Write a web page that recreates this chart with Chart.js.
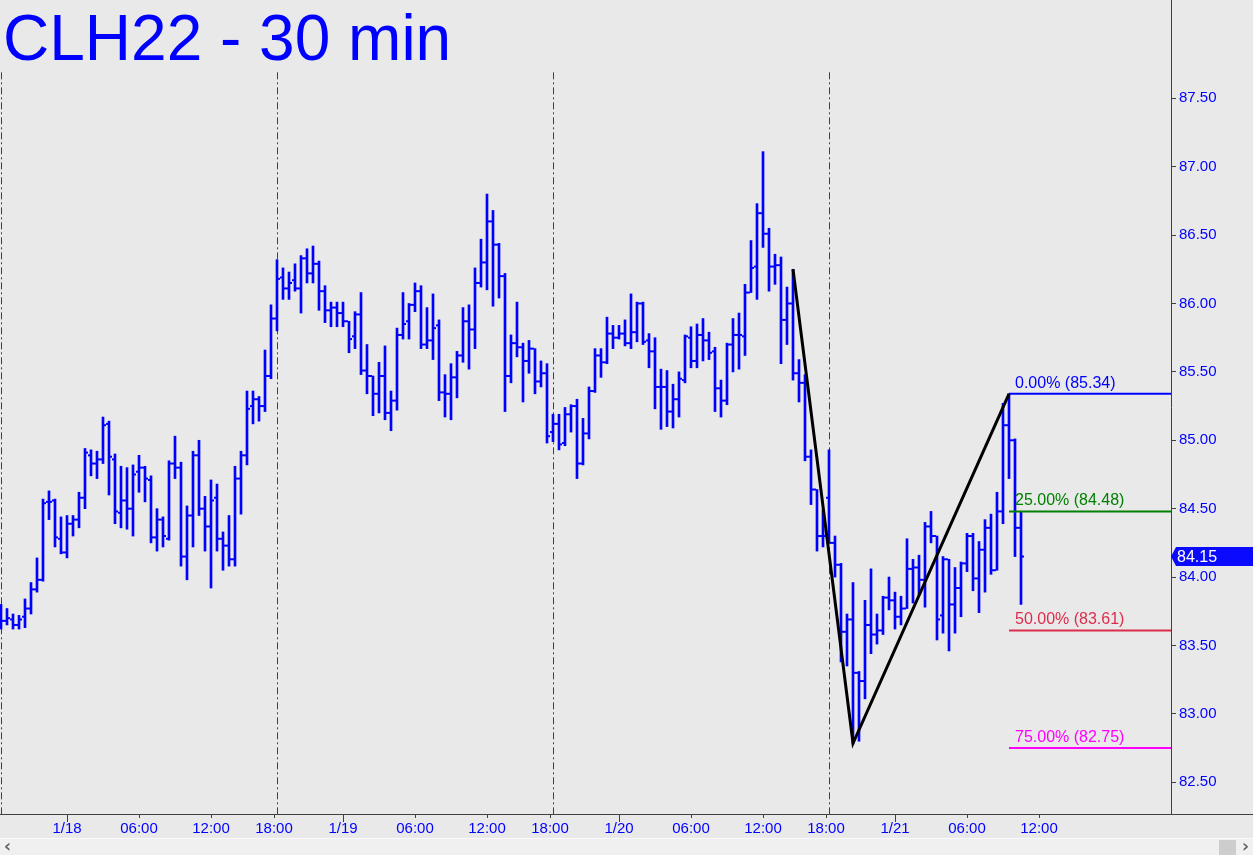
<!DOCTYPE html>
<html>
<head>
<meta charset="utf-8">
<script src="https://cdn.jsdelivr.net/npm/chart.js@4.4.1/dist/chart.umd.min.js"></script>
<style>
  html, body { margin: 0; padding: 0; background: #e9e9e9; overflow: hidden; }
  #wrap { position: relative; width: 1253px; height: 838px; }
  #scroll { position: relative; width: 1253px; height: 17px; background: #f0f0f0; border-top: 1px solid #fbfbfb; box-sizing: border-box; }
  #scroll .arr { position: absolute; top: -3px; font: bold 17px "DejaVu Sans", sans-serif; color: #606060; }
  #scroll .l { left: 4px; }
  #scroll .r { right: 4px; }
  #scroll .thumb { position: absolute; left: 1219px; top: 1px; width: 17px; height: 15px; background: #cdcdcd; }
</style>
</head>
<body>
<div id="wrap"><canvas id="chart" width="1253" height="838"></canvas></div>
<div id="scroll"><span class="arr l">&lsaquo;</span><span class="thumb"></span><span class="arr r">&rsaquo;</span></div>
<script>
const title = "CLH22 - 30 min";

// 30-minute OHLC bars, index 0 = 1/17 18:00
const opens = [
  83.72, 83.68, 83.69, 83.65, 83.71, 83.77, 83.91, 83.98, 84.55, 84.56,
  84.28, 84.18, 84.39, 84.42, 84.58, 84.89, 84.83, 84.86, 85.12, 84.86,
  84.47, 84.56, 84.50, 84.77, 84.80, 84.71, 84.29, 84.42, 84.28, 84.83,
  84.80, 84.15, 84.45, 84.89, 84.50, 84.37, 84.58, 84.28, 84.23, 84.13,
  84.72, 84.89, 85.25, 85.30, 85.25, 85.47, 85.89, 86.19, 86.11, 86.17,
  86.11, 86.33, 86.22, 86.29, 86.09, 85.95, 85.97, 85.93, 85.87, 85.76,
  85.92, 85.51, 85.47, 85.34, 85.47, 85.20, 85.29, 85.77, 85.87, 85.99,
  86.09, 85.70, 85.73, 85.84, 85.35, 85.34, 85.46, 85.62, 85.87, 85.81,
  86.15, 86.30, 86.60, 86.43, 86.20, 85.47, 85.71, 85.68, 85.58, 85.67,
  85.43, 85.49, 85.06, 85.12, 84.98, 85.19, 85.25, 84.83, 85.05, 85.36,
  85.62, 85.57, 85.78, 85.75, 85.78, 85.71, 85.79, 86.00, 85.73, 85.65,
  85.39, 85.39, 85.21, 85.30, 85.44, 85.75, 85.58, 85.77, 85.73, 85.65,
  85.38, 85.29, 85.70, 85.77, 85.76, 86.08, 86.27, 86.66, 86.51, 86.27,
  86.28, 85.88, 86.00, 85.49, 85.42, 84.88, 84.64, 84.30, 84.58, 84.25,
  84.09, 83.60, 83.69, 83.30, 83.24, 83.65, 83.58, 83.61, 83.85, 83.83,
  83.71, 83.77, 84.06, 84.07, 83.98, 84.37, 84.30, 83.72, 84.13, 83.80,
  83.92, 84.10, 84.30, 83.99, 84.20, 84.36, 84.05, 84.48, 85.11, 85.00,
  84.36
];
const highs = [
  83.80, 83.77, 83.73, 83.72, 83.84, 83.96, 84.14, 84.57, 84.63, 84.57,
  84.44, 84.45, 84.45, 84.62, 84.94, 84.93, 84.92, 85.17, 85.14, 84.90,
  84.81, 84.80, 84.82, 84.89, 84.81, 84.74, 84.50, 84.44, 84.85, 85.03,
  84.84, 84.52, 84.92, 85.00, 84.59, 84.71, 84.68, 84.33, 84.45, 84.81,
  84.92, 85.36, 85.36, 85.32, 85.66, 85.99, 86.32, 86.26, 86.23, 86.29,
  86.35, 86.40, 86.42, 86.31, 86.13, 86.01, 86.01, 86.01, 85.87, 85.94,
  86.08, 85.70, 85.47, 85.57, 85.69, 85.36, 85.82, 86.08, 86.00, 86.15,
  86.13, 85.97, 86.07, 85.88, 85.48, 85.56, 85.65, 85.97, 85.99, 86.26,
  86.47, 86.80, 86.68, 86.44, 86.22, 85.77, 86.01, 85.71, 85.73, 85.67,
  85.58, 85.56, 85.19, 85.19, 85.24, 85.26, 85.30, 85.16, 85.39, 85.67,
  85.67, 85.90, 85.84, 85.84, 85.88, 86.07, 86.01, 86.01, 85.78, 85.75,
  85.52, 85.51, 85.41, 85.50, 85.77, 85.83, 85.85, 85.89, 85.79, 85.68,
  85.44, 85.71, 85.89, 85.93, 86.14, 86.46, 86.73, 87.11, 86.55, 86.36,
  86.34, 86.12, 86.25, 85.59, 85.48, 84.93, 84.64, 84.49, 84.93, 84.30,
  84.10, 83.73, 83.96, 83.31, 83.83, 84.06, 83.73, 83.86, 84.00, 83.89,
  83.86, 84.28, 84.13, 84.16, 84.40, 84.48, 84.30, 84.15, 84.13, 84.07,
  84.11, 84.32, 84.32, 84.26, 84.42, 84.46, 84.62, 85.27, 85.34, 85.01,
  84.48
];
const lows = [
  83.62, 83.65, 83.62, 83.62, 83.63, 83.73, 83.89, 83.97, 84.42, 84.22,
  84.17, 84.14, 84.30, 84.36, 84.50, 84.74, 84.72, 84.83, 84.60, 84.39,
  84.36, 84.35, 84.30, 84.62, 84.55, 84.25, 84.19, 84.22, 84.27, 84.72,
  84.08, 83.98, 84.22, 84.45, 84.19, 83.92, 84.19, 84.05, 84.08, 84.08,
  84.46, 84.82, 85.12, 85.14, 85.21, 85.45, 85.80, 86.03, 86.03, 86.09,
  85.93, 86.15, 86.15, 85.95, 85.86, 85.83, 85.83, 85.83, 85.64, 85.67,
  85.48, 85.34, 85.18, 85.20, 85.15, 85.07, 85.22, 85.74, 85.74, 85.94,
  85.67, 85.67, 85.59, 85.29, 85.17, 85.15, 85.31, 85.57, 85.52, 85.67,
  86.12, 86.10, 85.98, 86.04, 85.21, 85.42, 85.61, 85.28, 85.49, 85.34,
  85.39, 84.98, 84.99, 84.93, 84.96, 85.06, 84.72, 84.82, 85.01, 85.35,
  85.46, 85.56, 85.67, 85.74, 85.69, 85.67, 85.72, 85.70, 85.53, 85.23,
  85.08, 85.10, 85.09, 85.17, 85.42, 85.53, 85.53, 85.58, 85.59, 85.21,
  85.17, 85.26, 85.50, 85.52, 85.62, 86.08, 86.03, 86.41, 86.09, 86.14,
  85.56, 85.70, 85.44, 85.28, 84.85, 84.53, 84.19, 84.22, 84.25, 84.00,
  83.38, 83.35, 82.78, 82.80, 83.11, 83.44, 83.51, 83.58, 83.76, 83.62,
  83.65, 83.77, 83.81, 83.87, 83.78, 84.25, 83.54, 83.59, 83.46, 83.59,
  83.71, 84.04, 83.90, 83.74, 83.89, 84.02, 84.05, 84.39, 84.72, 84.15,
  83.80
];
const closes = [
  83.68, 83.70, 83.65, 83.69, 83.77, 83.91, 83.98, 84.54, 84.55, 84.29,
  84.18, 84.39, 84.42, 84.58, 84.91, 84.83, 84.86, 85.11, 84.88, 84.48,
  84.56, 84.50, 84.75, 84.80, 84.72, 84.29, 84.42, 84.30, 84.83, 84.80,
  84.15, 84.45, 84.89, 84.50, 84.37, 84.56, 84.28, 84.23, 84.13, 84.72,
  84.89, 85.23, 85.30, 85.25, 85.47, 85.89, 86.18, 86.11, 86.15, 86.11,
  86.33, 86.22, 86.29, 86.09, 85.95, 85.97, 85.93, 85.87, 85.74, 85.92,
  85.51, 85.47, 85.34, 85.47, 85.20, 85.29, 85.77, 85.85, 85.99, 86.09,
  85.70, 85.73, 85.82, 85.35, 85.34, 85.46, 85.62, 85.87, 85.81, 86.15,
  86.30, 86.60, 86.43, 86.20, 85.47, 85.71, 85.68, 85.58, 85.67, 85.43,
  85.49, 85.03, 85.12, 84.97, 85.19, 85.25, 84.83, 85.05, 85.36, 85.62,
  85.57, 85.78, 85.75, 85.78, 85.71, 85.79, 86.00, 85.72, 85.65, 85.39,
  85.39, 85.21, 85.30, 85.45, 85.76, 85.58, 85.77, 85.73, 85.64, 85.38,
  85.29, 85.70, 85.77, 85.77, 86.08, 86.26, 86.66, 86.51, 86.27, 86.28,
  85.88, 86.00, 85.49, 85.42, 84.88, 84.64, 84.30, 84.30, 84.25, 84.09,
  83.60, 83.69, 83.30, 83.24, 83.65, 83.58, 83.61, 83.85, 83.83, 83.71,
  83.77, 84.06, 84.07, 83.98, 84.37, 84.30, 83.69, 84.13, 83.80, 83.92,
  84.10, 84.30, 83.99, 84.20, 84.36, 84.05, 84.48, 85.11, 85.00, 84.36,
  84.15
];

const xTickPos = [11, 23, 35, 45.5, 57, 69, 81, 91.5, 103, 115, 127, 137.5, 149, 161, 173];
const xTickLabels = ["1/18", "06:00", "12:00", "18:00", "1/19", "06:00", "12:00", "18:00",
                     "1/20", "06:00", "12:00", "18:00", "1/21", "06:00", "12:00"];
const yTicks = [82.5, 83.0, 83.5, 84.0, 84.5, 85.0, 85.5, 86.0, 86.5, 87.0, 87.5];

const sessionStarts = [0, 46, 92, 138];
const sessionTop = 87.69;

const swingX = [132, 142, 168];
const swingY = [86.25, 82.785, 85.34];

const fibPct = ["0.00%", "25.00%", "50.00%", "75.00%"];
const fibLevels = [85.34, 84.48, 83.61, 82.75];
const lastPrice = 84.15;

const xMin = -1 / 6, xMax = 195;
const yMin = 82.268, yMax = 88.2186;

const BLUE = "#0000ff";
const AXIS = "#404040";
const fibColors = ["#0000ff", "#008000", "#dc2d4b", "#ff00ff"];
const FONT = '"Liberation Sans", Arial, sans-serif';

const bars = highs.map((h, i) => ({ x: i, y: [lows[i], h] }));
const openTicks = opens.map((v, i) => ({ x: i - 1 / 3, y: v }));
const closeTicks = closes.map((v, i) => ({ x: i + 1 / 3, y: v }));

const sessionSets = sessionStarts.map(s => ({
  type: "line",
  data: [{ x: s + 1 / 12, y: sessionTop }, { x: s + 1 / 12, y: yMin }],
  borderColor: AXIS,
  borderWidth: 1,
  borderDash: [7, 3, 2, 3],
  pointRadius: 0,
  order: 5
}));

const fibSets = fibLevels.map((lv, i) => ({
  type: "line",
  data: [{ x: swingX[2], y: lv }, { x: xMax, y: lv }],
  borderColor: fibColors[i],
  borderWidth: 2,
  pointRadius: 0,
  order: 1
}));

const overlay = {
  id: "overlay",
  afterDraw(chart) {
    const { ctx, chartArea, scales: { x, y } } = chart;
    ctx.save();

    ctx.fillStyle = BLUE;
    ctx.font = "64px " + FONT;
    ctx.textBaseline = "alphabetic";
    ctx.textAlign = "left";
    ctx.fillText(title, 3, 60);

    ctx.font = "16px " + FONT;
    fibLevels.forEach((lv, i) => {
      ctx.fillStyle = fibColors[i];
      ctx.fillText(fibPct[i] + " (" + lv.toFixed(2) + ")",
        x.getPixelForValue(swingX[2]) + 6, y.getPixelForValue(lv) - 6);
    });

    ctx.strokeStyle = AXIS;
    ctx.lineWidth = 1;
    ctx.beginPath();
    ctx.moveTo(chartArea.right, chartArea.bottom + 0.5);
    ctx.lineTo(chart.width, chartArea.bottom + 0.5);
    xTickPos.forEach((p, i) => {
      if (xTickLabels[i].includes("/")) {
        const px = Math.round(x.getPixelForValue(p)) + 0.5;
        ctx.moveTo(px, chartArea.bottom);
        ctx.lineTo(px, chartArea.bottom + 8);
      }
    });
    ctx.stroke();

    const py = y.getPixelForValue(lastPrice);
    const r = chartArea.right;
    ctx.fillStyle = "#0a0aff";
    ctx.beginPath();
    ctx.moveTo(r, py);
    ctx.lineTo(r + 5, py - 9.5);
    ctx.lineTo(chart.width, py - 9.5);
    ctx.lineTo(chart.width, py + 9.5);
    ctx.lineTo(r + 5, py + 9.5);
    ctx.closePath();
    ctx.fill();
    ctx.fillStyle = "#ffffff";
    ctx.font = "16px " + FONT;
    ctx.textBaseline = "middle";
    ctx.fillText(lastPrice.toFixed(2), r + 6, py + 1);

    ctx.restore();
  }
};

new Chart(document.getElementById("chart"), {
  type: "scatter",
  data: {
    datasets: [
      {
        type: "line",
        data: swingX.map((v, i) => ({ x: v, y: swingY[i] })),
        borderColor: "#000000",
        borderWidth: 3,
        pointRadius: 0,
        order: 0
      },
      ...fibSets,
      {
        data: openTicks,
        pointStyle: "rect",
        pointRadius: 1.42,
        pointHoverRadius: 0,
        borderWidth: 0,
        backgroundColor: BLUE,
        order: 2
      },
      {
        data: closeTicks,
        pointStyle: "rect",
        pointRadius: 1.42,
        pointHoverRadius: 0,
        borderWidth: 0,
        backgroundColor: BLUE,
        order: 2
      },
      {
        type: "bar",
        data: bars,
        backgroundColor: BLUE,
        borderWidth: 0,
        barThickness: 2,
        order: 3
      },
      ...sessionSets
    ]
  },
  options: {
    responsive: false,
    animation: false,
    events: [],
    layout: { padding: 0, autoPadding: false },
    plugins: { legend: { display: false }, tooltip: { enabled: false } },
    scales: {
      x: {
        type: "linear",
        position: "bottom",
        min: xMin,
        max: xMax,
        bounds: "data",
        offset: false,
        afterBuildTicks: s => { s.ticks = xTickPos.map(v => ({ value: v })); },
        afterFit: s => { s.height = 24; s.paddingLeft = 0; s.paddingRight = 0; },
        ticks: {
          autoSkip: false,
          maxRotation: 0,
          color: BLUE,
          padding: 2,
          font: { family: FONT, size: 15 },
          callback: (v, i) => xTickLabels[i]
        },
        grid: { drawOnChartArea: false, offset: false, tickLength: 4, tickColor: AXIS },
        border: { color: AXIS }
      },
      y: {
        type: "linear",
        position: "right",
        min: yMin,
        max: yMax,
        bounds: "data",
        afterBuildTicks: s => { s.ticks = yTicks.map(v => ({ value: v })); },
        afterFit: s => { s.width = 82; s.paddingTop = 0; s.paddingBottom = 0; },
        ticks: {
          color: BLUE,
          padding: 3,
          font: { family: FONT, size: 15 },
          callback: v => v.toFixed(2)
        },
        grid: { drawOnChartArea: false, tickLength: 5, tickColor: AXIS },
        border: { color: AXIS }
      }
    }
  },
  plugins: [overlay]
});
</script>
</body>
</html>
